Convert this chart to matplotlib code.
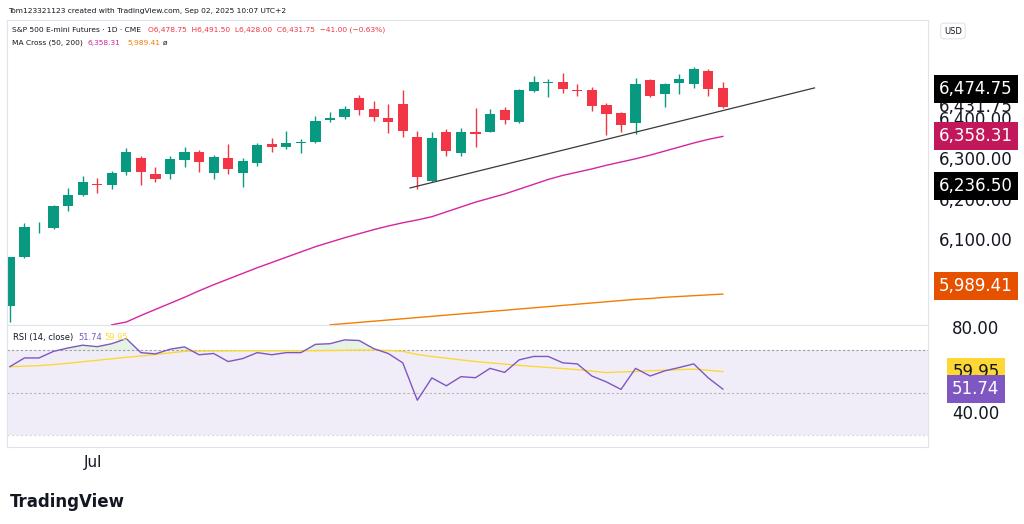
import matplotlib
matplotlib.use("Agg")
import matplotlib.pyplot as plt
import matplotlib.transforms as mtransforms
import numpy as np

# daily candles (S&P 500 E-mini)
opens = [5940, 6061, 6134, 6132, 6186, 6214, 6241, 6239, 6270, 6304,
         6265, 6265, 6301, 6319, 6267, 6305, 6267, 6293, 6340, 6333,
         6343, 6344, 6400, 6406, 6452, 6425, 6404, 6438, 6358, 6249,
         6368, 6318, 6369, 6370, 6423, 6395, 6470, 6489, 6493, 6472,
         6472, 6435, 6415, 6391, 6498, 6462, 6489, 6488, 6521, 6478.75]
highs = [5945, 6144, 6148, 6189, 6231, 6260, 6255, 6274, 6330, 6311,
         6283, 6311, 6332, 6325, 6312, 6340, 6304, 6343, 6355, 6372,
         6351, 6409, 6419, 6433, 6460, 6445, 6438, 6473, 6372, 6368,
         6376, 6378, 6428, 6426, 6432, 6475, 6508, 6499, 6514, 6488,
         6480, 6441, 6419, 6502, 6499, 6489, 6512, 6530, 6525, 6491.5]
lows = [5900, 6059, 6119, 6130, 6173, 6212, 6219, 6228, 6264, 6239,
        6246, 6254, 6282, 6271, 6253, 6266, 6234, 6284, 6320, 6327,
        6317, 6341, 6393, 6402, 6410, 6397, 6366, 6356, 6229, 6246,
        6311, 6310, 6333, 6368, 6388, 6391, 6468, 6456, 6465, 6459,
        6422, 6362, 6370, 6364, 6456, 6432, 6464, 6477, 6459, 6428]
closes = [6061, 6134, 6135, 6186, 6214, 6246, 6238, 6269, 6320, 6270,
          6254, 6302, 6320, 6295, 6307, 6278, 6298, 6337, 6331, 6341,
          6345, 6396, 6403, 6426, 6423, 6407, 6395, 6372, 6257, 6354,
          6322, 6369, 6365, 6414, 6400, 6472, 6493, 6493, 6475, 6470,
          6434, 6414, 6387, 6488, 6458, 6487, 6500, 6524, 6476, 6431.75]

ma50_start = 7
ma50 = [5893, 5900, 5916, 5931, 5946, 5961, 5977, 5992, 6006, 6020,
        6034, 6047, 6060, 6073, 6086, 6097, 6108, 6118, 6128, 6137,
        6145, 6152, 6160, 6172, 6184, 6196, 6206, 6216, 6228, 6240,
        6252, 6262, 6270, 6278, 6287, 6295, 6303, 6312, 6322, 6332,
        6342, 6351, 6358.31]
ma200_start = 22
ma200 = [5893, 5896, 5899, 5902, 5905, 5908, 5911, 5914, 5917, 5920,
         5923, 5926, 5929, 5932, 5935, 5938, 5941, 5944, 5947, 5950,
         5953, 5956, 5958, 5961, 5963, 5965, 5967, 5969]

trend_idx = [27.5, 55.3]
trend_px = [6231, 6478]

rsi = [62.3, 66.4, 66.4, 69.5, 71.1, 72.4, 71.7, 73.1, 75.5, 68.9,
       68.3, 70.5, 71.6, 67.9, 68.5, 64.7, 66.1, 68.9, 67.9, 68.9,
       68.9, 72.8, 73.1, 74.9, 74.6, 70.8, 68.5, 64.1, 46.5, 57.0,
       53.3, 57.6, 57.1, 61.5, 59.6, 65.5, 67.1, 67.1, 64.1, 63.6,
       57.9, 55.1, 51.6, 61.5, 57.9, 60.3, 61.9, 63.6, 57.0, 51.74]
rsi_ma = [62.3, 62.5, 62.8, 63.3, 63.9, 64.6, 65.3, 66.0, 66.7, 67.3,
          68.0, 68.8, 69.5, 69.6, 69.7, 69.7, 69.8, 69.8, 69.8, 69.8,
          69.8, 69.8, 69.9, 70.0, 70.1, 70.1, 69.9, 69.5, 68.0, 67.1,
          66.3, 65.5, 64.7, 64.1, 63.5, 62.9, 62.4, 61.9, 61.4, 60.9,
          60.2, 59.5, 59.8, 60.0, 60.4, 60.6, 60.9, 61.1, 60.6, 59.95]

GREEN = "#089981"
RED = "#f23645"
W, H = 1024, 524

fig = plt.figure(figsize=(W / 100, H / 100), dpi=100)


def pane(x0, y0, x1, y1):
    return fig.add_axes([x0 / W, 1 - y1 / H, (x1 - x0) / W, (y1 - y0) / H])


ax = pane(7, 20, 928, 325)
ax2 = pane(7, 325, 928, 447)
for a in (ax, ax2):
    a.set_xlim(-0.2, 63.1)
    a.set_xticks([])
    a.set_yticks([])
    for s in a.spines.values():
        s.set_color("#e0e3eb")
        s.set_linewidth(0.8)

ax.set_ylim(5892.6, 6645.7)
ax2.set_ylim(24.5, 81.9)

# candles
for i, (o, h, l, c) in enumerate(zip(opens, highs, lows, closes)):
    col = GREEN if c >= o else RED
    ax.vlines(i, l, h, color=col, lw=1)
    body = max(abs(c - o), 1.5)
    ax.bar(i, body, bottom=min(o, c), width=0.7, color=col, linewidth=0)

ax.plot(range(ma50_start, ma50_start + len(ma50)), ma50, color="#d6249f", lw=1)
ax.plot(range(ma200_start, ma200_start + len(ma200)), ma200, color="#f57c00", lw=1)
ax.plot(trend_idx, trend_px, color="#3a3a3a", lw=0.9)

# RSI pane
xi = np.arange(len(rsi))
r = np.array(rsi)
ax2.axhspan(30, 70, color="#7e57c2", alpha=0.1, lw=0)
ax2.axhline(70, color="#9e9e9e", lw=0.8, ls=(0, (2, 2)))
ax2.axhline(50, color="#9e9e9e", lw=0.8, ls=(0, (2, 2)), alpha=0.7)
ax2.axhline(30, color="#9e9e9e", lw=0.8, ls=(0, (2, 2)), alpha=0.4)
ax2.fill_between(xi, 70, r, where=r > 70, interpolate=True, color="#4caf50", alpha=0.15, lw=0)
ax2.plot(xi, rsi_ma, color="#fdd835", lw=1)
ax2.plot(xi, rsi, color="#7e57c2", lw=1)
ax2.text(0.006, 0.9, "RSI (14, close)", transform=ax2.transAxes, fontsize=6, color="#131722", va="center")
ax2.text(0.078, 0.9, "51.74", transform=ax2.transAxes, fontsize=6, color="#7e57c2", va="center")
ax2.text(0.106, 0.9, "59.95", transform=ax2.transAxes, fontsize=6, color="#fdd835", va="center")

# right scale labels
def plain(a, y, s):
    tr = mtransforms.blended_transform_factory(a.transAxes, a.transData)
    a.text(1.052, y, s, transform=tr, fontsize=12, color="#131722", va="center", ha="center",
           clip_on=False, zorder=1)


def boxed(a, y, s, bg, fg="white"):
    tr = mtransforms.blended_transform_factory(a.transAxes, a.transData)
    a.text(1.052, y, s, transform=tr, fontsize=12, color=fg, va="center", ha="center", clip_on=False,
           zorder=10, bbox=dict(boxstyle="square,pad=0.3", fc=bg, ec="none"))


for v in [6100, 6200, 6300, 6400]:
    plain(ax, v, f"{v:,.2f}")
plain(ax, 6431.75, "6,431.75")
boxed(ax, 6474.75, "6,474.75", "#000000")
boxed(ax, 6358.31, "6,358.31", "#c2185b")
boxed(ax, 6236.50, "6,236.50", "#000000")
boxed(ax, 5989.41, "5,989.41", "#e65100")
plain(ax2, 80, "80.00")
plain(ax2, 40, "40.00")
boxed(ax2, 59.95, "59.95", "#fdd835", "#131722")
boxed(ax2, 51.74, "51.74", "#7e57c2")

# header / footer text
fig.text(8 / W, 1 - 11 / H, "Tom123321123 created with TradingView.com, Sep 02, 2025 10:07 UTC+2",
         fontsize=5.4, color="#131722", va="center")
fig.text(12 / W, 1 - 30 / H, "S&P 500 E-mini Futures · 1D · CME", fontsize=5.4, color="#131722", va="center")
fig.text(148 / W, 1 - 30 / H, "O6,478.75  H6,491.50  L6,428.00  C6,431.75  −41.00 (−0.63%)",
         fontsize=5.4, color=RED, va="center")
fig.text(12 / W, 1 - 43 / H, "MA Cross (50, 200)", fontsize=5.4, color="#131722", va="center")
fig.text(88 / W, 1 - 43 / H, "6,358.31", fontsize=5.4, color="#d6249f", va="center")
fig.text(127 / W, 1 - 43 / H, "5,989.41", fontsize=5.4, color="#f57c00", va="center")
fig.text(163 / W, 1 - 43 / H, "ø", fontsize=5.4, color="#131722", va="center")
fig.text(944 / W, 1 - 31 / H, "USD", fontsize=6, color="#131722", va="center",
         bbox=dict(boxstyle="round,pad=0.4", fc="white", ec="#e0e3eb", lw=0.8))
fig.text(93 / W, 1 - 463 / H, "Jul", fontsize=11, color="#131722", va="center", ha="center")
fig.text(10 / W, 1 - 502 / H, "TradingView", fontsize=12, fontweight="bold", color="#131722", va="center")

fig.savefig("out.png", dpi=100)
